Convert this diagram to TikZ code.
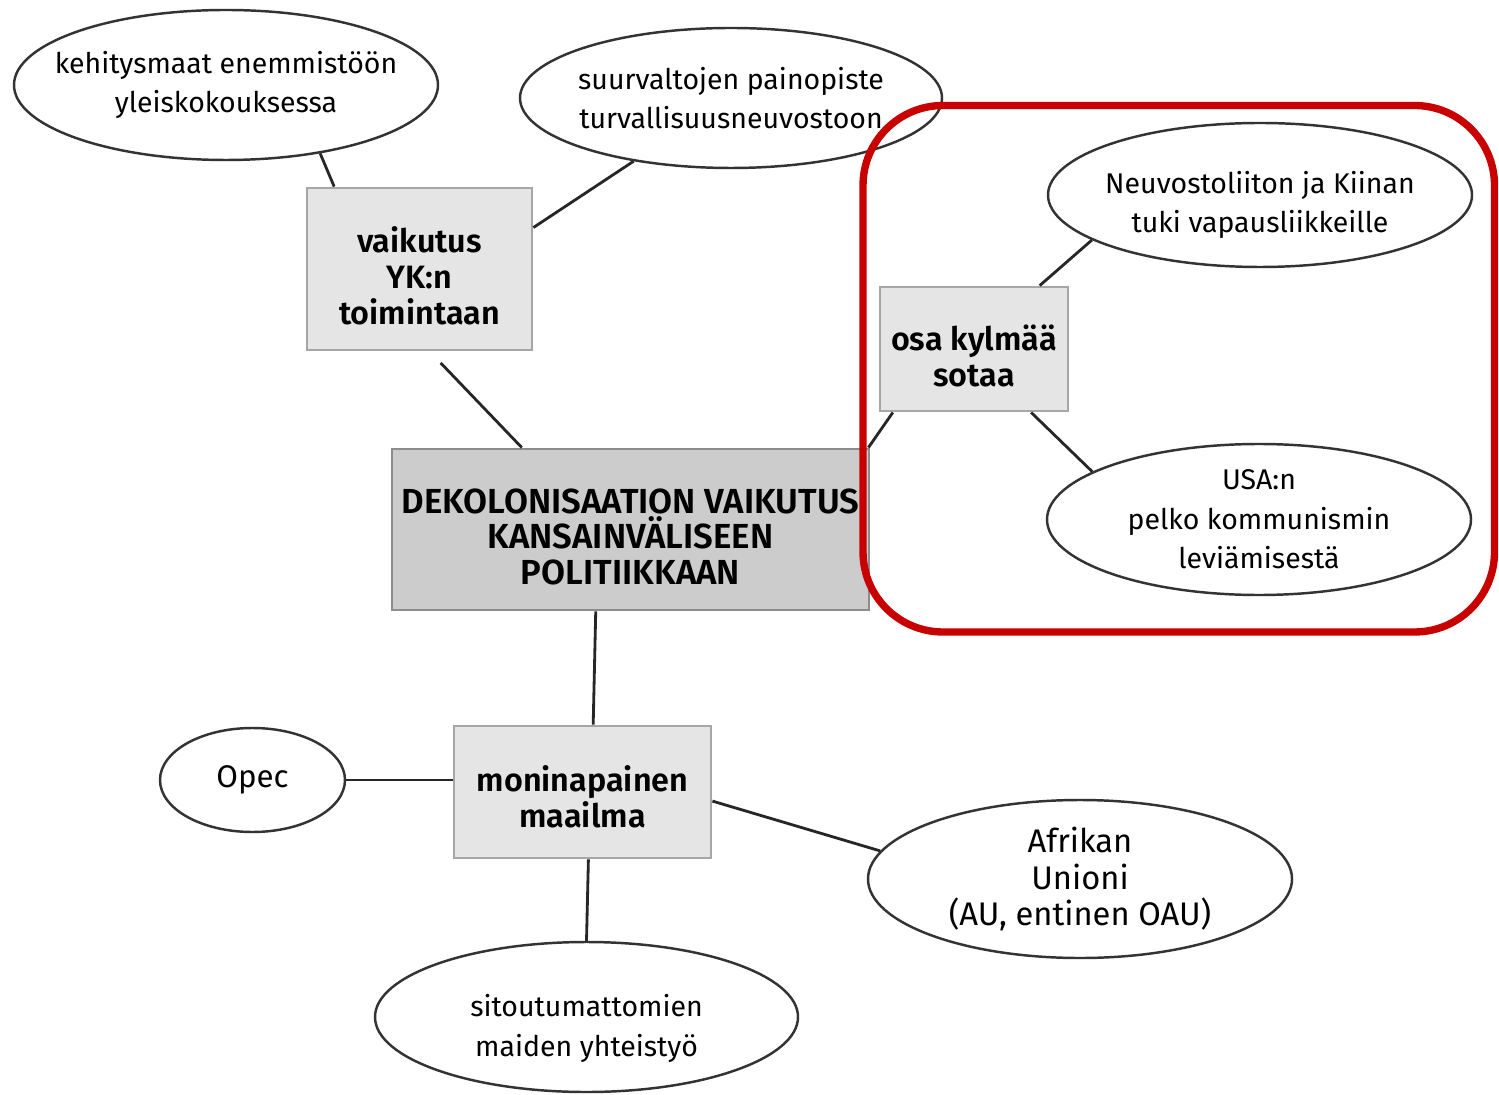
\documentclass[tikz,border=0pt]{standalone}
\usepackage{fontspec}
\setmainfont{Fira Sans}[BoldFont={Fira Sans SemiBold}]
\usetikzlibrary{shapes}
\usetikzlibrary{positioning}

\tikzset{
	aihe/.style={ellipse, draw=black!80, line width=0.7pt, inner sep=-0.4cm, align=center, font=\fontsize{8.1}{11.2}\selectfont},
	laatikko/.style={rectangle, draw=black!35, line width=0.8pt, fill=black!10, inner sep=0pt, align=center, font=\bfseries\fontsize{9.2}{10.2}\selectfont},
	viiva/.style={draw=black!85, line width=0.8pt}
}

\begin{document}
\begin{tikzpicture}
\useasboundingbox (0,0) rectangle (14.99,-10.95);

% laatikot
\node [laatikko, minimum width=2.25cm, minimum height=1.62cm] (Vaik) at (4.195,-2.69) {\\[1pt]vaikutus\\YK:n\\toimintaan};
\node [laatikko, fill=black!20, draw=black!45, minimum width=4.77cm, minimum height=1.61cm, font=\bfseries\fontsize{9.9}{10.1}\selectfont] (Main) at (6.305,-5.295) {\\[1pt]DEKOLONISAATION VAIKUTUS\\KANSAINVÄLISEEN\\POLITIIKKAAN};
\node [laatikko, minimum width=1.88cm, minimum height=1.24cm] (Osa) at (9.74,-3.49) {\\[1pt]osa kylmää\\sotaa};
\node [laatikko, minimum width=2.57cm, minimum height=1.32cm] (Moni) at (5.825,-7.92) {\\[0pt]moninapainen\\maailma};

% ellipsit
\node [aihe, minimum width=4.24cm, minimum height=1.50cm] (Kehit) at (2.26,-0.85) {kehitysmaat enemmistöön\\yleiskokouksessa};
\node [aihe, minimum width=4.22cm, minimum height=1.40cm] (Suurv) at (7.31,-0.98) {suurvaltojen painopiste\\turvallisuusneuvostoon};
\node [aihe, minimum width=4.24cm, minimum height=1.44cm] (Neuv) at (12.60,-1.95) {\\[0.6pt]Neuvostoliiton ja Kiinan\\tuki vapausliikkeille};
\node [aihe, minimum width=4.24cm, minimum height=1.51cm] (Usa) at (12.59,-5.195) {USA:n\\pelko kommunismin\\leviämisestä};
\node [aihe, minimum width=1.85cm, minimum height=1.04cm, font=\fontsize{8.9}{11}\selectfont] (Opec) at (2.525,-7.80) {Opec};
\node [aihe, minimum width=4.24cm, minimum height=1.58cm, font=\fontsize{9.3}{10.4}\selectfont] (Afr) at (10.80,-8.79) {Afrikan\\Unioni\\(AU, entinen OAU)};
\node [aihe, minimum width=4.23cm, minimum height=1.50cm] (Sitout) at (5.865,-10.17) {\\[1.6pt]sitoutumattomien\\maiden yhteistyö};

% viivat
\draw [viiva] (Kehit.-36) -- (Vaik.136);
\draw [viiva] (Suurv.213.3) -- (Vaik.20);
\draw [viiva, shorten <=1.6mm] (Vaik.-83.5) -- (Main.143.4);
\draw [viiva] (Main.19.7) -- (Osa.218.1);
\draw [viiva] (Osa.44.5) -- (Neuv.195.4);
\draw [viiva] (Osa.-48.8) -- (Usa.164.6);
\draw [viiva] (Main.247.4) -- (Moni.81.8);
\draw [viiva] (Opec.east) -- (Opec.east -| Moni.west);
\draw [viiva] (Moni.-4.9) -- (Afr.172.7);
\draw [viiva] (Moni.-85.2) -- (Sitout.north);

% kylmä sota
\draw [draw={rgb,255:red,200;green,0;blue,0}, line width=2.1pt, rounded corners=0.8cm] (8.63,-1.055) rectangle (14.945,-6.32);

\end{tikzpicture}
\end{document}
